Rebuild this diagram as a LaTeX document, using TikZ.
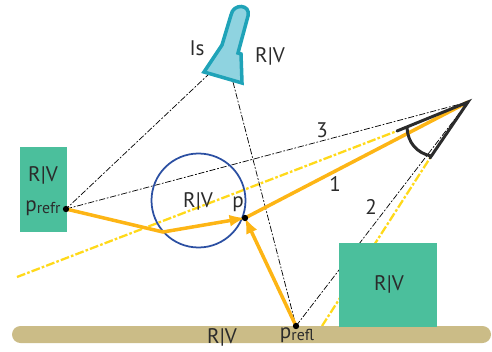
\documentclass[tikz,border=0pt]{standalone}
\usepackage{fontspec}
\setmainfont{PT Sans}
\usetikzlibrary{positioning}
\definecolor{boxgreen}{HTML}{4BBF9C}
\definecolor{floorsand}{HTML}{CBBC87}
\definecolor{rayorange}{HTML}{FDB515}
\definecolor{rayyellow}{HTML}{FFD91A}
\definecolor{lampblue}{HTML}{8FD3E0}
\definecolor{lampedge}{HTML}{1FA3B8}
\definecolor{spherblue}{HTML}{2B4FA2}
\definecolor{inkdark}{HTML}{2B2B2B}
\tikzset{
    shadow/.style={black,line width=0.4pt,dash pattern=on 3.5pt off 1pt on 1pt off 1pt},
    yray/.style={rayyellow,line width=1.3pt,dash pattern=on 5pt off 1.2pt on 1.5pt off 1.2pt},
    oray/.style={rayorange,line width=2pt},
    view/.style={inkdark,line width=1.7pt,line cap=round},
    hit/.style={circle,fill=black,inner sep=0pt,minimum size=3.6pt},
    lbl/.style={text=inkdark,inner sep=0pt,font=\fontsize{12}{14}\selectfont}
}
\newcommand{\low}[1]{\raisebox{-1.5pt}{\fontsize{9}{10}\selectfont #1}}
\begin{document}
\begin{tikzpicture}[x=0.02cm,y=-0.02cm]
    \useasboundingbox (0,0) rectangle (492,351);
    %punti
    \coordinate (eye) at (468,102);
    \coordinate (viewa) at (397,131);
    \coordinate (viewb) at (430,158);
    \coordinate (bend) at (163,232);
    \coordinate (lampa) at (210,73);
    \coordinate (lampb) at (233,82);
    \coordinate (yleft) at (17,277);
    \coordinate (yfoot) at (322,326);
    \coordinate (prefr) at (66,209);
    \coordinate (prefl) at (296,326);
    \coordinate (p) at (245,218);
    %raggi gialli
    \draw[yray](yleft)--(viewa);
    \draw[yray](yfoot)--(viewb);
    %raggi neri
    \draw[shadow](lampa)--(prefr);
    \draw[shadow](lampb)--(prefl);
    \draw[shadow](prefr)--(eye);
    \draw[shadow](prefl)--(eye);
    %pavimento e scatole
    \fill[floorsand,rounded corners=0.17cm](12,326)rectangle(491,343);
    \fill[boxgreen](20,147)rectangle(67,232);
    \fill[boxgreen](339,243)rectangle(437,327);
    \draw[spherblue,line width=1pt](198.5,200.5)circle[radius=47];
    %lampada
    \draw[lampedge,fill=lampblue,line width=2pt,line join=miter]
        (204,72)--(222,45)--(231,15) .. controls (233,3) and (251,4) .. (248,16)
        --(238,53)--(241,54)--(242,83)--cycle;
    %raggi arancioni
    \draw[oray](eye)--(p);
    \draw[oray,-latex](prefr)--(bend)--(p);
    \draw[oray,-latex](prefl)--(p);
    \node[hit] (hitrefr) at (prefr) {};
    \node[hit] (hitrefl) at (prefl) {};
    \node[hit] (hitp) at (p) {};
    %occhio
    \draw[view](viewa)--(eye)--(viewb);
    \draw[view](407,128) .. controls (408,143) and (417,153) .. (431,156);
    %etichette
    \node[lbl] (lampname) at (197,48) {Is};
    \node[lbl] (lamprv) at (270,56) {R|V};
    \node[lbl] (rva) at (43,175) {R|V};
    \node[lbl] (nrefr) at (43,208) {p\low{refr}};
    \node[lbl] (rvb) at (198,201) {R|V};
    \node[lbl] (np) at (238,204) {p};
    \node[lbl] (rvc) at (389,284) {R|V};
    \node[lbl] (rvd) at (222,337) {R|V};
    \node[lbl] (nrefl) at (297,335) {p\low{refl}};
    \node[lbl] (none) at (335,184) {1};
    \node[lbl] (ntwo) at (371,207) {2};
    \node[lbl] (nthree) at (322,130) {3};
\end{tikzpicture}
\end{document}
